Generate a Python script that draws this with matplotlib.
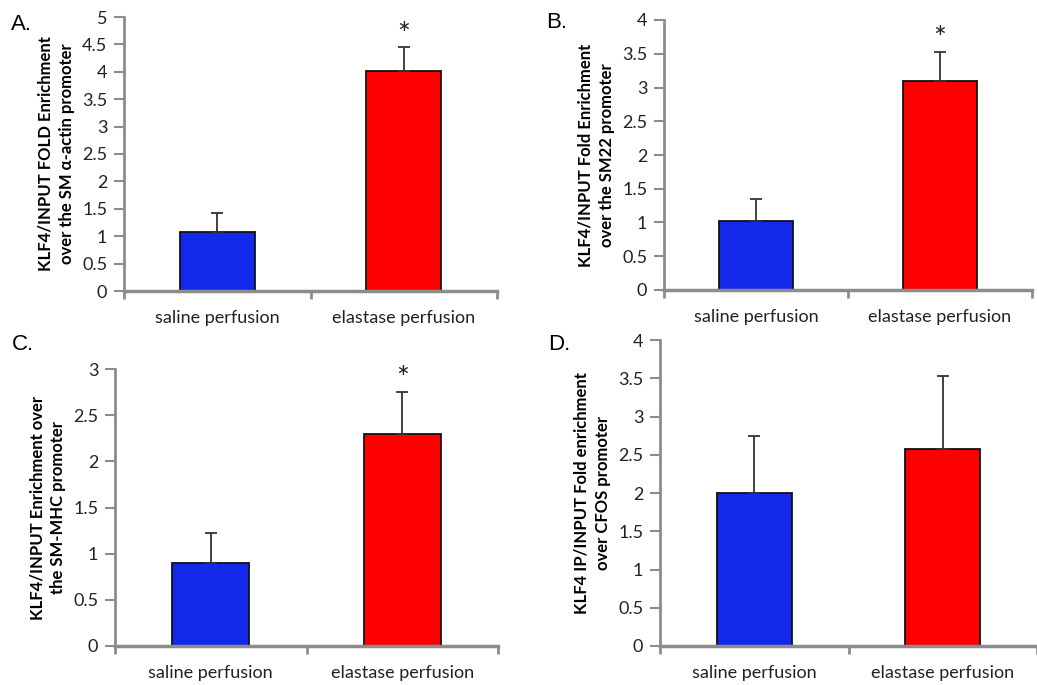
import numpy as np
import matplotlib.pyplot as plt
from matplotlib.ticker import FixedLocator

categories = ["saline perfusion", "elastase perfusion"]

smactin_vals = [1.07, 4.02]
smactin_err = [0.35, 0.43]
sm22_vals = [1.02, 3.10]
sm22_err = [0.33, 0.43]
smmhc_vals = [0.90, 2.30]
smmhc_err = [0.32, 0.45]
cfos_vals = [2.00, 2.58]
cfos_err = [0.75, 0.95]

panels = [
    ("A.", smactin_vals, smactin_err, 5, [0, 0.5, 1, 1.5, 2, 2.5, 3, 3.5, 4, 4.5, 5],
     "KLF4/INPUT FOLD Enrichment\nover the SM \u03b1-actin promoter", True),
    ("B.", sm22_vals, sm22_err, 4, [0, 0.5, 1, 1.5, 2, 2.5, 3, 3.5, 4],
     "KLF4/INPUT Fold Enrichment\nover the SM22 promoter", True),
    ("C.", smmhc_vals, smmhc_err, 3, [0, 0.5, 1, 1.5, 2, 2.5, 3],
     "KLF4/INPUT Enrichment over\nthe SM-MHC promoter", True),
    ("D.", cfos_vals, cfos_err, 4, [0, 0.5, 1, 1.5, 2, 2.5, 3, 3.5, 4],
     "KLF4 IP/INPUT Fold enrichment\nover CFOS promoter", False),
]

# axes boxes in pixels: left, right, top, bottom
boxes = [(124, 497, 17, 291), (664, 1032, 20, 290),
         (115, 498, 369, 646), (660, 1037, 340, 646)]
letter_pos = [(11, 30), (546, 28), (12, 350), (548, 350)]

W, H = 1037, 685
fig = plt.figure(figsize=(W / 100, H / 100), dpi=100)
plt.rcParams['font.family'] = ['Lato', 'DejaVu Sans']

colors = ['#1229EA', '#FF0000']
spine_c = '#8c8c8c'

for (letter, vals, errs, ymax, yt, ylab, star), (l, r, t, b), (lx, ly) in zip(panels, boxes, letter_pos):
    ax = fig.add_axes([l / W, 1 - b / H, (r - l) / W, (b - t) / H])
    x = np.arange(len(categories))
    ax.bar(x, vals, width=0.4, color=colors, edgecolor='#111111', linewidth=1.3, zorder=2)
    ax.errorbar(x, vals, yerr=[[0, 0], errs], fmt='none', ecolor='#333333',
                elinewidth=1.3, capsize=4, capthick=1.3, zorder=3)
    ax.set_xlim(-0.5, 1.5)
    ax.set_ylim(0, ymax)
    ax.set_yticks(yt)
    ax.set_yticklabels(['%g' % v for v in yt])
    ax.set_xticks(x)
    ax.set_xticklabels(categories)
    ax.xaxis.set_minor_locator(FixedLocator([-0.5, 0.5, 1.5]))
    ax.tick_params(axis='x', which='major', length=0, pad=14, labelsize=13, colors='#222222')
    ax.tick_params(axis='x', which='minor', length=6, width=2, color=spine_c, direction='out')
    ax.tick_params(axis='y', length=7, width=1.5, color=spine_c, labelsize=13,
                   labelcolor='#222222', pad=5)
    for s in ['top', 'right']:
        ax.spines[s].set_visible(False)
    ax.spines['left'].set_color(spine_c)
    ax.spines['left'].set_linewidth(2)
    ax.spines['bottom'].set_color(spine_c)
    ax.spines['bottom'].set_linewidth(2.5)
    ax.set_ylabel(ylab, fontsize=12, fontweight='bold', labelpad=5, linespacing=1.4)
    if star:
        ax.text(1, vals[1] + errs[1] - ymax * 0.005, '*', ha='center', va='bottom',
                fontsize=22, color='#222222')
    fig.text(lx / W, 1 - ly / H, letter, fontsize=16, family='Liberation Sans',
             ha='left', va='baseline')

fig.savefig('out.png', dpi=100)
